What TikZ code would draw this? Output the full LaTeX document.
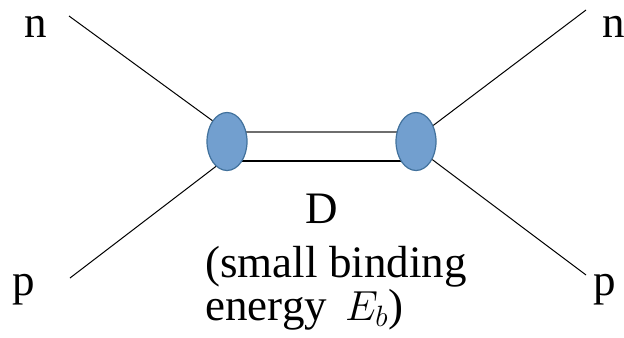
\documentclass[tikz,border=0pt]{standalone}
\usepackage{fontspec}
\setmainfont{Liberation Serif}
\usepackage{fix-cm}
\usetikzlibrary{shapes.geometric,backgrounds}
\definecolor{blobfill}{RGB}{114,159,207}
\definecolor{blobedge}{RGB}{65,113,156}
\definecolor{bondtop}{HTML}{6E6E6E}

\begin{document}
\begin{tikzpicture}[x=0.5pt,y=-0.5pt,
  blob/.style={ellipse,fill=blobfill,draw=blobedge,line width=0.6pt,minimum width=20pt,minimum height=29pt,inner sep=0pt},
  leg/.style={line width=0.5pt,draw=black},
  lbl/.style={font=\fontsize{22.5}{22.5}\selectfont,inner sep=0pt,anchor=base west},
  captxt/.style={font=\fontsize{22.5}{22.5}\selectfont,inner sep=0pt,align=left}
]
\useasboundingbox (0,0) rectangle (624,337);
\node[blob] (L) at (227,141.5) {};
\node[blob] (R) at (416,141.5) {};
\node[lbl] (nin) at (24,37) {n};
\node[lbl] (pin) at (12,295) {p};
\node[lbl] (nout) at (602,37) {n};
\node[lbl] (pout) at (593,295) {p};
\coordinate (nL) at (69,16);
\coordinate (pL) at (70,278);
\coordinate (nR) at (586,10);
\coordinate (pR) at (586,275);
\node[lbl,anchor=base] (D) at (322,223) {D};
\node[captxt,anchor=base west] (Eb) at (205,320) {(small binding\\[-1pt]energy\hspace{9pt}{\fontsize{21}{21}\selectfont$E_b$})};
\begin{scope}[on background layer]
  \draw[line width=0.6pt,bondtop] ([yshift=4.75pt]L.center) -- ([yshift=4.75pt]R.center);
  \draw[line width=0.6pt] ([yshift=-9.75pt]L.center) -- ([yshift=-9.75pt]R.center);
\end{scope}
\draw[leg] (nL) -- (L.125);
\draw[leg] (pL) -- (L.246);
\draw[leg] (nR) -- (R.43);
\draw[leg] (pR) -- (R.312);
\end{tikzpicture}
\end{document}
